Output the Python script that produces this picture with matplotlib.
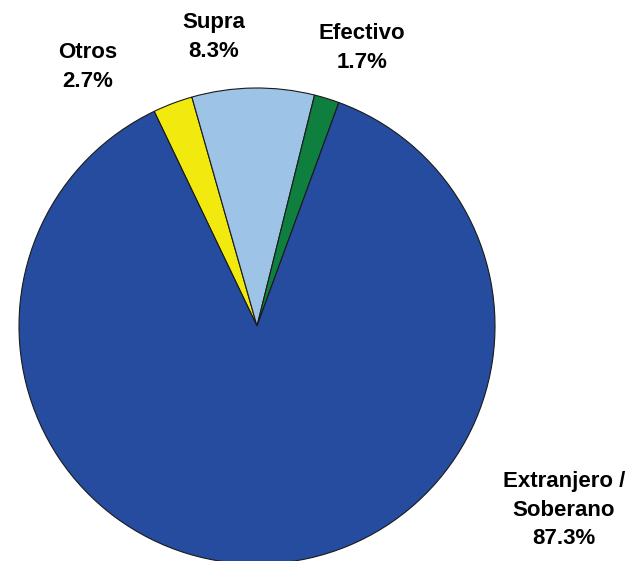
import matplotlib
matplotlib.use("Agg")
import matplotlib.pyplot as plt

labels = ["Otros", "Supra", "Efectivo", "Extranjero /\nSoberano"]
values = [2.7, 8.3, 1.7, 87.3]
colors = ["#F2EA0F", "#9DC3E6", "#0E7F3E", "#254C9F"]

W, H = 640, 561
fig = plt.figure(figsize=(W / 100, H / 100), dpi=100)
ax = fig.add_axes([0, 0, 1, 1])
ax.set_xlim(0, W)
ax.set_ylim(0, H)
ax.set_aspect("equal")
ax.axis("off")

cx, cy, r = 257, H - 326, 238
ax.pie(values, colors=colors, center=(cx, cy), radius=r, startangle=115.6,
       counterclock=False, wedgeprops=dict(edgecolor="#1a1a1a", linewidth=0.8))
ax.set_xlim(0, W)
ax.set_ylim(0, H)

label_pos = [(88, 67), (214, 37), (362, 48), (564, 510)]
for lab, v, (x, y) in zip(labels, values, label_pos):
    ax.text(x, H - y, f"{lab}\n{v}%", ha="center", va="center",
            fontsize=16, fontweight="bold", family="Liberation Sans",
            linespacing=1.5)

fig.savefig("out.png", dpi=100)
